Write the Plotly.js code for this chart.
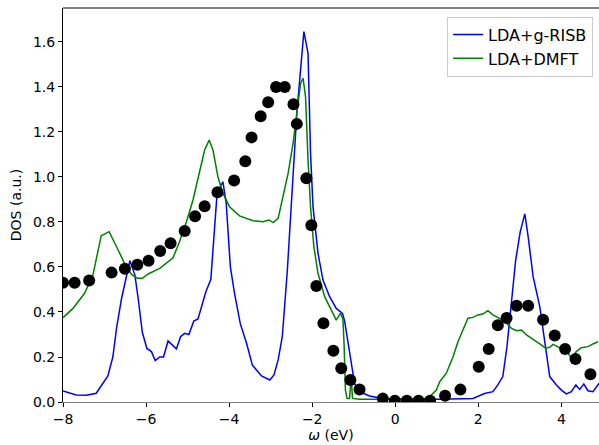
<!DOCTYPE html>
<html>
<head>
<meta charset="utf-8">
<script src="https://cdn.plot.ly/plotly-3.0.1.min.js"></script>
<style>html,body{margin:0;padding:0;background:#fff;}#chart{width:599px;height:445px;}</style>
</head>
<body>
<div id="chart"></div>
<script>
// LDA+g-RISB (blue)
const risbX = [-8.0,-7.68,-7.44,-7.20,-6.92,-6.80,-6.71,-6.59,-6.39,-6.27,-6.19,-6.09,-5.98,-5.87,-5.78,-5.67,-5.58,-5.47,-5.27,-5.17,-5.07,-4.97,-4.85,-4.75,-4.64,-4.56,-4.44,-4.39,-4.29,-4.15,-4.07,-3.97,-3.87,-3.73,-3.58,-3.44,-3.33,-3.22,-3.02,-2.92,-2.82,-2.72,-2.60,-2.50,-2.46,-2.37,-2.28,-2.20,-2.10,-2.04,-1.98,-1.86,-1.74,-1.58,-1.42,-1.27,-1.22,-1.16,-1.06,-0.98,-0.86,-0.62,-0.30,0.27,1.07,1.55,1.87,2.15,2.35,2.47,2.59,2.69,2.80,2.90,3.01,3.12,3.20,3.32,3.48,3.60,3.72,3.88,4.00,4.12,4.24,4.35,4.44,4.54,4.64,4.76,4.91];
const risbY = [0.049,0.031,0.030,0.039,0.116,0.20,0.33,0.46,0.628,0.565,0.46,0.31,0.238,0.224,0.184,0.20,0.20,0.271,0.236,0.29,0.305,0.30,0.36,0.369,0.439,0.49,0.545,0.69,0.927,0.979,0.883,0.60,0.483,0.347,0.261,0.164,0.142,0.116,0.098,0.12,0.187,0.29,0.58,0.88,1.03,1.283,1.476,1.646,1.55,1.105,0.868,0.661,0.542,0.468,0.416,0.394,0.36,0.29,0.157,0.083,0.046,0.027,0.016,0.012,0.012,0.016,0.016,0.038,0.046,0.076,0.113,0.246,0.453,0.631,0.757,0.836,0.735,0.557,0.424,0.276,0.113,0.076,0.053,0.036,0.046,0.076,0.056,0.08,0.05,0.046,0.083];

// LDA+DMFT (green)
const dmftX = [-8.0,-7.76,-7.48,-7.28,-7.08,-6.89,-6.71,-6.54,-6.35,-6.21,-6.09,-5.95,-5.67,-5.35,-5.20,-5.03,-4.87,-4.71,-4.59,-4.48,-4.39,-4.27,-4.15,-3.99,-3.75,-3.42,-3.18,-3.04,-2.94,-2.82,-2.72,-2.58,-2.46,-2.37,-2.28,-2.22,-2.16,-2.10,-2.04,-1.96,-1.86,-1.70,-1.54,-1.42,-1.32,-1.26,-1.23,-1.20,-1.16,-1.10,-1.06,-1.03,-0.86,0.67,0.83,0.99,1.07,1.23,1.39,1.51,1.63,1.75,1.87,1.99,2.11,2.23,2.35,2.51,2.68,2.80,2.92,3.04,3.16,3.32,3.48,3.62,3.72,3.80,3.92,4.04,4.14,4.24,4.36,4.48,4.64,4.76,4.88];
const dmftY = [0.375,0.416,0.483,0.564,0.739,0.757,0.69,0.624,0.567,0.55,0.55,0.569,0.594,0.641,0.71,0.80,0.898,1.02,1.12,1.164,1.12,1.001,0.928,0.868,0.827,0.806,0.801,0.809,0.797,0.816,0.90,1.016,1.15,1.283,1.416,1.439,1.357,1.076,0.868,0.69,0.572,0.468,0.409,0.364,0.394,0.37,0.246,0.053,0.016,0.016,0.113,0.016,0.012,0.012,0.024,0.053,0.09,0.128,0.2,0.268,0.32,0.372,0.376,0.387,0.391,0.406,0.387,0.372,0.35,0.327,0.317,0.32,0.298,0.276,0.258,0.239,0.243,0.256,0.246,0.234,0.224,0.194,0.224,0.241,0.246,0.258,0.268];

// Experiment (black dots)
const expX = [-8.0,-7.72,-7.37,-6.83,-6.51,-6.21,-5.94,-5.66,-5.41,-5.07,-4.82,-4.59,-4.28,-3.88,-3.61,-3.46,-3.24,-3.06,-2.87,-2.66,-2.45,-2.37,-2.14,-2.02,-1.90,-1.73,-1.49,-1.30,-1.08,-0.86,-0.30,-0.01,0.28,0.56,0.84,1.20,1.57,2.01,2.25,2.47,2.68,2.92,3.20,3.56,3.84,4.09,4.34,4.70];
const expY = [0.53,0.53,0.54,0.575,0.592,0.61,0.628,0.671,0.705,0.76,0.826,0.87,0.932,0.984,1.07,1.176,1.27,1.332,1.40,1.40,1.323,1.236,0.994,0.785,0.516,0.35,0.228,0.15,0.098,0.056,0.015,0.006,0.006,0.006,0.006,0.028,0.055,0.157,0.236,0.341,0.373,0.428,0.428,0.366,0.296,0.236,0.191,0.123];

const xTicks = [-8,-6,-4,-2,0,2,4];
const yTicks = [0.0,0.2,0.4,0.6,0.8,1.0,1.2,1.4,1.6];

const font = {family: 'DejaVu Sans, sans-serif', size: 14, color: '#000'};

const traces = [
  {x: risbX, y: risbY, type: 'scatter', mode: 'lines', name: 'LDA+g-RISB',
   line: {color: '#0000ff', width: 1.5}},
  {x: dmftX, y: dmftY, type: 'scatter', mode: 'lines', name: 'LDA+DMFT',
   line: {color: '#008000', width: 1.5}},
  {x: expX, y: expY, type: 'scatter', mode: 'markers', name: 'Expt.', showlegend: false,
   marker: {color: '#000', size: 12, line: {width: 0}}}
];

const layout = {
  width: 599, height: 445,
  margin: {l: 63, r: 0, t: 8, b: 43},
  paper_bgcolor: '#fff', plot_bgcolor: '#fff',
  font: font,
  showlegend: true,
  legend: {x: 0.989, xanchor: 'right', y: 0.978, yanchor: 'top',
           bgcolor: 'rgba(255,255,255,0.8)', bordercolor: '#cccccc', borderwidth: 1,
           font: {family: 'DejaVu Sans, sans-serif', size: 16, color: '#000'}},
  xaxis: {range: [-8, 4.906], tickvals: xTicks, ticks: 'outside', ticklen: 4, tickwidth: 1,
          tickcolor: '#000', showgrid: false, zeroline: false, showline: true,
          linecolor: '#808080', linewidth: 1,
          title: {text: '<i>ω</i> (eV)', font: font, standoff: 4}, tickfont: font},
  yaxis: {range: [0, 1.751], tickvals: yTicks, tickformat: '.1f', ticks: 'outside', ticklen: 4,
          tickwidth: 1, tickcolor: '#000', showgrid: false, zeroline: false, showline: true,
          linecolor: '#000', linewidth: 1,
          title: {text: 'DOS (a.u.)', font: font, standoff: 8}, tickfont: font},
  shapes: [{type: 'line', xref: 'paper', yref: 'paper', x0: 0, x1: 1, y0: 1, y1: 1,
            line: {color: '#000', width: 1}}]
};

Plotly.newPlot('chart', traces, layout, {staticPlot: true, displayModeBar: false});
</script>
</body>
</html>
